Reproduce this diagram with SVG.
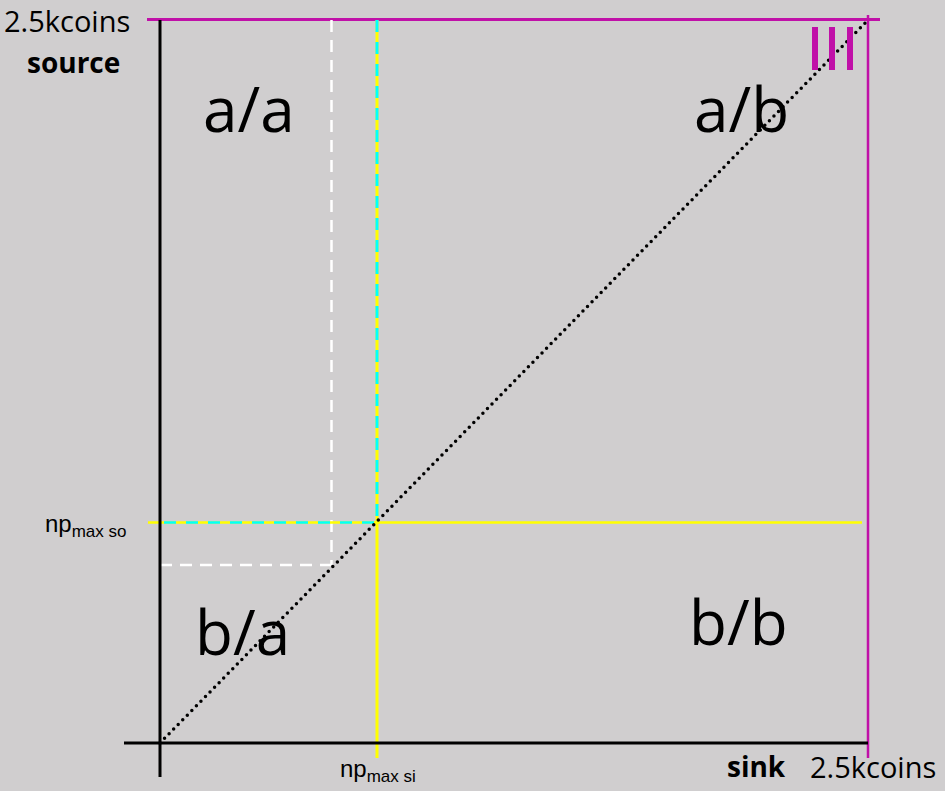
<svg xmlns="http://www.w3.org/2000/svg" width="945" height="791" viewBox="0 0 945 791">
<style>
.big{font-family:"Open Sans","Liberation Sans",sans-serif;font-size:62px;fill:#000}
.lbl{font-family:"Open Sans","Liberation Sans",sans-serif;font-size:29px;fill:#000}
.bold{font-family:"Open Sans","Liberation Sans",sans-serif;font-size:28px;font-weight:bold;fill:#000}
.np{font-family:"Liberation Sans",Arial,sans-serif;font-size:24px;fill:#000}
.sub{font-size:17px}
.mag{stroke:#C010A8;fill:none}
</style>
<rect x="0" y="0" width="945" height="791" fill="#D0CECF"/>
<g id="connectors">
  <line class="mag" x1="147" y1="19.5" x2="880" y2="19.5" stroke-width="3"/>
  <line class="mag" x1="868" y1="15" x2="868" y2="758" stroke-width="2.5"/>
  <line x1="331.5" y1="20" x2="331.5" y2="565" stroke="#fff" stroke-width="2.5" stroke-dasharray="12,8"/>
  <line x1="160" y1="565" x2="331.5" y2="565" stroke="#fff" stroke-width="2.5" stroke-dasharray="12,8"/>
  <line x1="148" y1="522.5" x2="377" y2="522.5" stroke="#FFFF00" stroke-width="2.5"/>
  <line x1="160" y1="522.5" x2="377" y2="522.5" stroke="#00FFFF" stroke-width="2.5" stroke-dasharray="12,10" stroke-dashoffset="-4"/>
  <line x1="377" y1="522.5" x2="862" y2="522.5" stroke="#FFFF00" stroke-width="2.5"/>
  <line x1="377" y1="20" x2="377" y2="522.5" stroke="#FFFF00" stroke-width="3"/>
  <line x1="377" y1="20" x2="377" y2="522.5" stroke="#00FFFF" stroke-width="3" stroke-dasharray="12,10"/>
  <line x1="377" y1="522.5" x2="377" y2="758" stroke="#FFFF00" stroke-width="3"/>
  <line x1="160" y1="20" x2="160" y2="777" stroke="#000" stroke-width="3"/>
  <line x1="124" y1="743" x2="868" y2="743" stroke="#000" stroke-width="3"/>
  <line x1="160" y1="743" x2="868" y2="20" stroke="#000" stroke-width="3.5" stroke-dasharray="0,6.5" stroke-linecap="round"/>
</g>
<g id="roman">
  <rect x="812" y="27" width="6" height="43" fill="#C010A8"/>
  <rect x="829" y="27" width="6" height="43" fill="#C010A8"/>
  <rect x="847" y="27" width="6" height="43" fill="#C010A8"/>
</g>
<g id="labels">
  <text class="lbl" x="4" y="32">2.5kcoins</text>
  <text class="bold" x="27" y="73">source</text>
  <text class="big" x="203" y="132">a/a</text>
  <text class="big" x="694" y="132">a/b</text>
  <text class="big" x="195" y="655">b/a</text>
  <text class="big" x="689" y="645">b/b</text>
  <text class="np" x="45" y="532">np<tspan class="sub" dy="5">max so</tspan></text>
  <text class="np" x="340" y="777">np<tspan class="sub" dy="5">max si</tspan></text>
  <text class="bold" x="727" y="777">sink</text>
  <text class="lbl" x="810" y="778">2.5kcoins</text>
</g>
</svg>
